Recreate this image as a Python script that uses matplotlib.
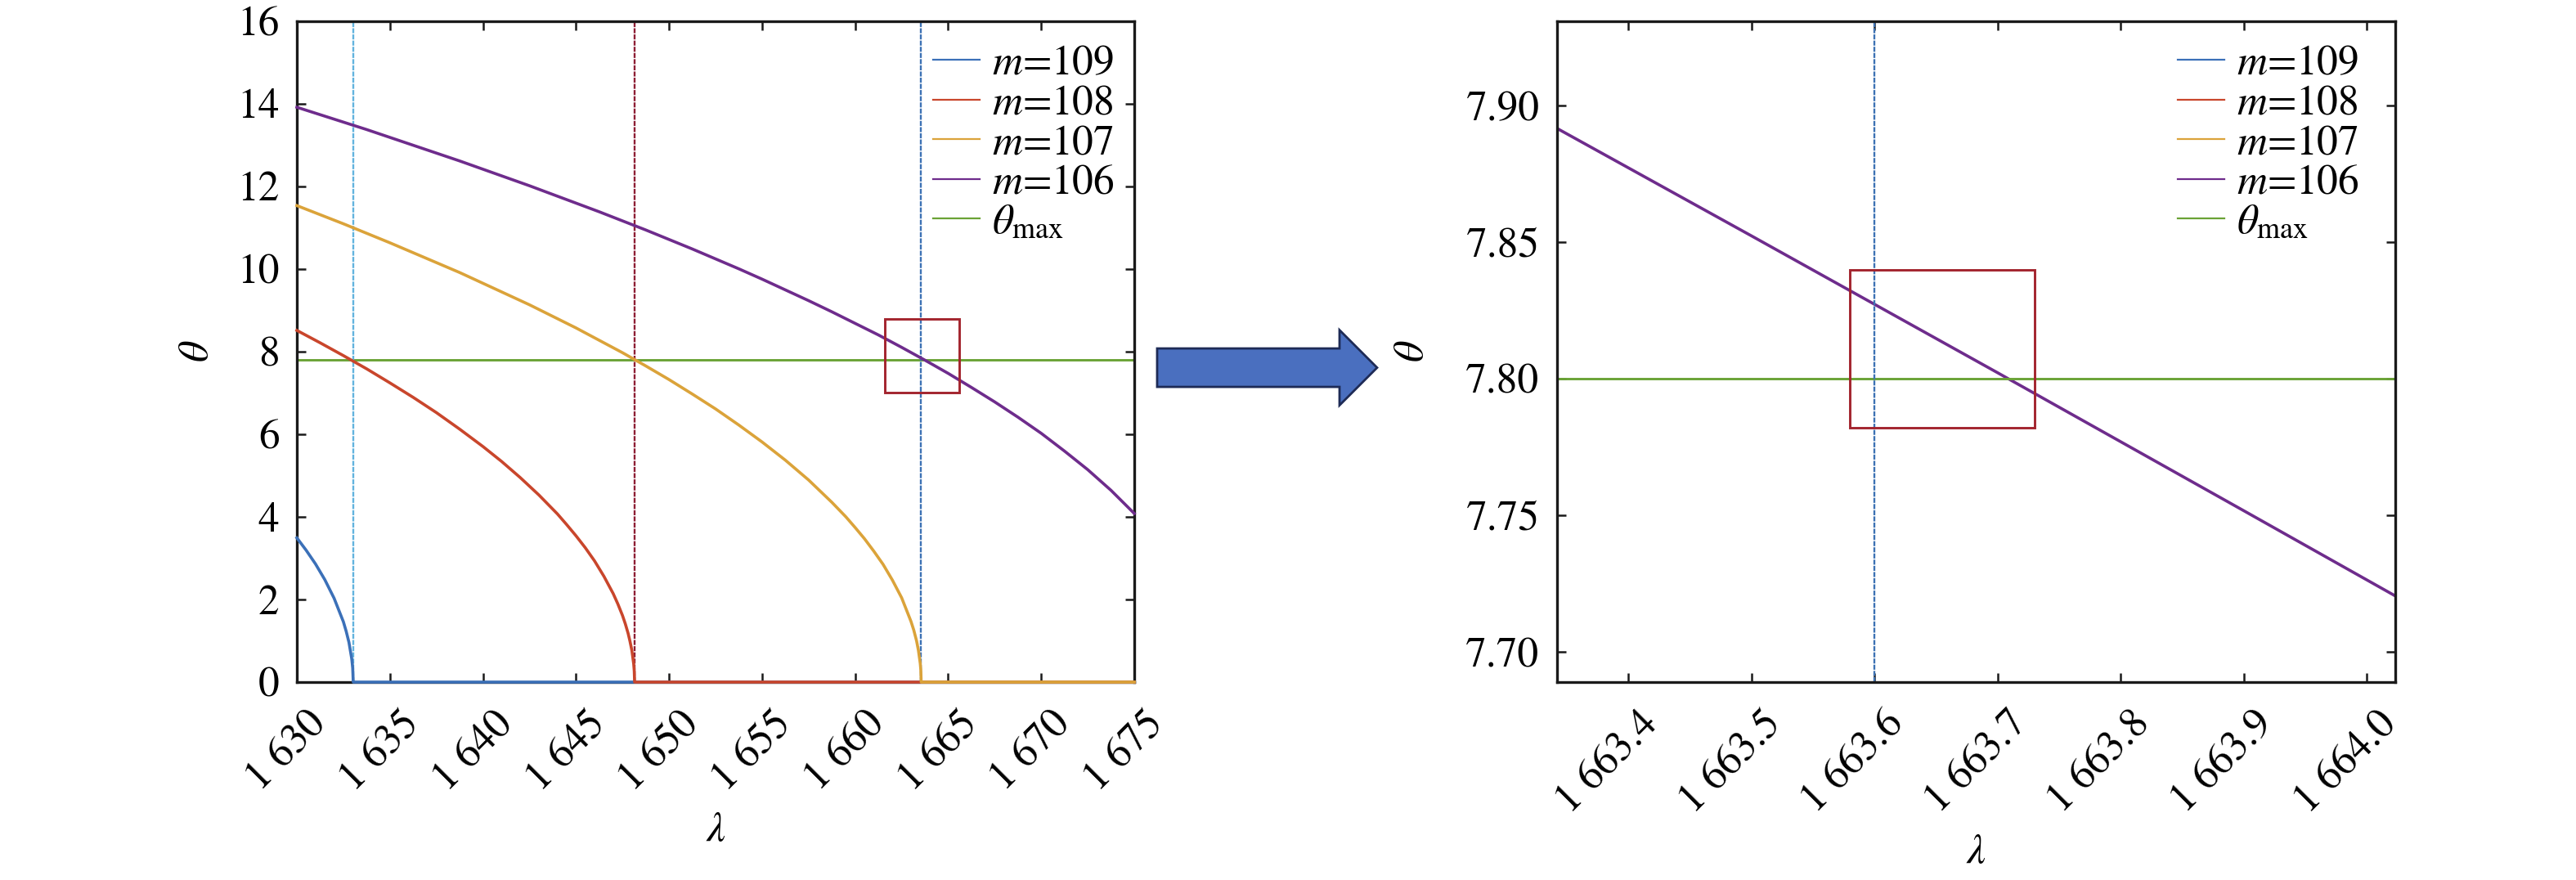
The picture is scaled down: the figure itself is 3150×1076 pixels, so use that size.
import matplotlib
matplotlib.use("Agg")
import matplotlib.pyplot as plt
import matplotlib.patches as patches
import matplotlib.transforms as mtransforms
from matplotlib.ticker import FuncFormatter, MultipleLocator

plt.rcParams['font.family'] = ['STIXGeneral', 'Liberation Serif', 'DejaVu Serif']
plt.rcParams['mathtext.fontset'] = 'stix'

# --- data ---
# m = 106
lam_106 = [1630, 1631.25, 1632.5, 1633.75, 1635, 1636.25, 1637.5, 1638.75, 1640, 1641.25,
           1642.5, 1643.75, 1645, 1646.25, 1647.5, 1648.75, 1650, 1651.25, 1652.5, 1653.75,
           1655, 1656.25, 1657.5, 1658.75, 1660, 1661.25, 1662.5, 1663.75, 1665, 1666.25,
           1667.5, 1668.75, 1670, 1671.25, 1672.5, 1673.75, 1675]
theta_106 = [13.91, 13.73, 13.55, 13.37, 13.18, 12.99, 12.80, 12.61, 12.41, 12.21,
             12.01, 11.80, 11.59, 11.38, 11.16, 10.94, 10.71, 10.48, 10.24, 10.00,
             9.75, 9.49, 9.23, 8.96, 8.68, 8.40, 8.10, 7.79, 7.47, 7.13,
             6.78, 6.41, 6.02, 5.59, 5.14, 4.64, 4.08]
# m = 107
lam_107 = [1630, 1631.25, 1632.5, 1633.75, 1635, 1636.25, 1637.5, 1638.75, 1640, 1641.25,
           1642.5, 1643.75, 1645, 1646.25, 1647.5, 1648.75, 1650, 1651.25, 1652.5, 1653.75,
           1655, 1656.25, 1657.5, 1658.75, 1659.5, 1660, 1660.5, 1661, 1661.5, 1662,
           1662.5, 1663, 1663.15, 1663.3, 1663.4, 1663.5, 1663.53, 1663.55, 1675]
theta_107 = [11.53, 11.31, 11.09, 10.86, 10.63, 10.39, 10.15, 9.91, 9.65, 9.39,
             9.13, 8.85, 8.57, 8.27, 7.97, 7.65, 7.32, 6.97, 6.61, 6.22,
             5.81, 5.37, 4.89, 4.35, 4.00, 3.74, 3.47, 3.17, 2.85, 2.47,
             2.04, 1.47, 1.26, 1.00, 0.77, 0.45, 0.29, 0.0, 0.0]
# m = 108
lam_108 = [1630, 1631.25, 1632.5, 1633.75, 1635, 1636.25, 1637.5, 1638.75, 1640, 1641,
           1642, 1643, 1644, 1644.5, 1645, 1645.5, 1646, 1646.5, 1647, 1647.25,
           1647.5, 1647.65, 1647.8, 1647.9, 1648.0, 1648.1, 1648.13, 1648.15, 1675]
theta_108 = [8.51, 8.21, 7.90, 7.58, 7.24, 6.89, 6.52, 6.12, 5.70, 5.34,
             4.95, 4.53, 4.07, 3.81, 3.54, 3.25, 2.93, 2.56, 2.14, 1.89,
             1.61, 1.41, 1.18, 0.99, 0.77, 0.44, 0.27, 0.0, 0.0]
# m = 109
lam_109 = [1630, 1630.5, 1631, 1631.5, 1632, 1632.5, 1632.65, 1632.8, 1632.95, 1633.0,
           1633.03, 1675]
theta_109 = [3.49, 3.19, 2.86, 2.48, 2.03, 1.46, 1.23, 0.96, 0.56, 0.34,
             0.0, 0.0]

# zoomed part of m = 106
lam_106_zoom = [1663.3, 1663.5, 1663.7, 1663.9, 1664.05]
theta_106_zoom = [7.9021, 7.8523, 7.8022, 7.7517, 7.7137]

theta_max = 7.8

# vertical marker lines
vlines_left = [1633.03, 1648.15, 1663.55]
vlines_left_colors = ['#62b3de', '#8e1f35', '#3d72b4']
vlines_right = [1663.6]

# highlight boxes (x0, y0, width, height)
box_left = (1661.6, 7.0, 4.0, 1.78)
box_right = (1663.58, 7.782, 0.15, 0.058)

labels = [r'$m$=109', r'$m$=108', r'$m$=107', r'$m$=106', r'$\theta_{\rm max}$']
colors = ['#3b70b8', '#c9462c', '#dba33a', '#6e2c8c', '#6aa336']

FS = 37

fig = plt.figure(figsize=(31.5, 10.76), dpi=100)
ax1 = fig.add_axes([0.11524, 0.2249, 0.32508, 0.7514])
ax2 = fig.add_axes([0.60444, 0.2249, 0.32540, 0.7514])

series = [(lam_109, theta_109), (lam_108, theta_108), (lam_107, theta_107), (lam_106, theta_106)]

# left panel
for (x, y), c, lab in zip(series, colors, labels):
    ax1.plot(x, y, color=c, lw=2.6, label=lab, clip_on=False, zorder=3)
ax1.axhline(theta_max, color=colors[4], lw=2.1, label=labels[4], zorder=2)
for xv, c in zip(vlines_left, vlines_left_colors):
    ax1.axvline(xv, color=c, lw=1.7, dashes=(2.6, 0.6), zorder=2.2)
ax1.add_patch(patches.Rectangle(box_left[:2], box_left[2], box_left[3], fill=False,
                                edgecolor='#a3242e', lw=2.1, zorder=4))
ax1.set_xlim(1630, 1675)
ax1.set_ylim(0, 16)
ax1.xaxis.set_major_locator(MultipleLocator(5))
ax1.yaxis.set_major_locator(MultipleLocator(2))
ax1.xaxis.set_major_formatter(FuncFormatter(lambda v, p: f"{v:,.0f}".replace(",", " ")))

# right panel
for (x, y), c, lab in zip(series[:3], colors[:3], labels[:3]):
    ax2.plot(x, y, color=c, lw=2.6, label=lab)
ax2.plot(lam_106_zoom, theta_106_zoom, color=colors[3], lw=2.6, label=labels[3])
ax2.axhline(theta_max, color=colors[4], lw=2.1, label=labels[4])
for xv in vlines_right:
    ax2.axvline(xv, color='#3d72b4', lw=1.7, dashes=(2.6, 0.6))
ax2.add_patch(patches.Rectangle(box_right[:2], box_right[2], box_right[3], fill=False,
                                edgecolor='#a3242e', lw=2.1, zorder=4))
ax2.set_xlim(1663.342, 1664.023)
ax2.set_ylim(7.689, 7.931)
ax2.xaxis.set_major_locator(MultipleLocator(0.1))
ax2.yaxis.set_major_locator(MultipleLocator(0.05))
ax2.xaxis.set_major_formatter(FuncFormatter(lambda v, p: f"{v:,.1f}".replace(",", " ")))
ax2.yaxis.set_major_formatter(FuncFormatter(lambda v, p: f"{v:.2f}"))

shift = mtransforms.ScaledTranslation(9 / 72, 0, fig.dpi_scale_trans)
for ax, lx, ly, legx in [(ax1, -0.118, -0.225, 0.9766), (ax2, -0.1717, -0.258, 0.957)]:
    for s in ax.spines.values():
        s.set_linewidth(2.4)
        s.set_color('#1a1a1a')
    ax.tick_params(direction='in', top=True, right=True, length=8, width=1.8,
                   labelsize=FS, color='#1a1a1a')
    ax.tick_params(axis='y', pad=15.5)
    ax.tick_params(axis='x', pad=20)
    for t in ax.get_xticklabels():
        t.set_rotation(45)
        t.set_ha('right')
        t.set_va('top')
        t.set_rotation_mode('anchor')
        t.set_transform(t.get_transform() + shift)
    ax.set_ylabel(r'$\theta$', fontsize=FS, va='center', ha='center')
    ax.set_xlabel(r'$\lambda$', fontsize=FS, va='center', ha='center')
    ax.yaxis.set_label_coords(lx, 0.5)
    ax.xaxis.set_label_coords(0.5, ly)
    leg = ax.legend(loc='upper right', bbox_to_anchor=(legx, 0.963), frameon=False,
                    fontsize=FS, handlelength=1.1, handletextpad=0.3,
                    labelspacing=0.03, borderpad=0, borderaxespad=0)
    for ln in leg.get_lines():
        ln.set_linewidth(1.6)

# arrow between the panels
arrow = patches.FancyArrow(0.4492, 0.5822, 0.0854, 0, width=0.0437, head_width=0.0855,
                           head_length=0.0146, length_includes_head=True,
                           transform=fig.transFigure, facecolor='#4a6fbf',
                           edgecolor='#1e2b56', lw=2)
fig.patches.append(arrow)

fig.savefig('out.png', dpi=100)
